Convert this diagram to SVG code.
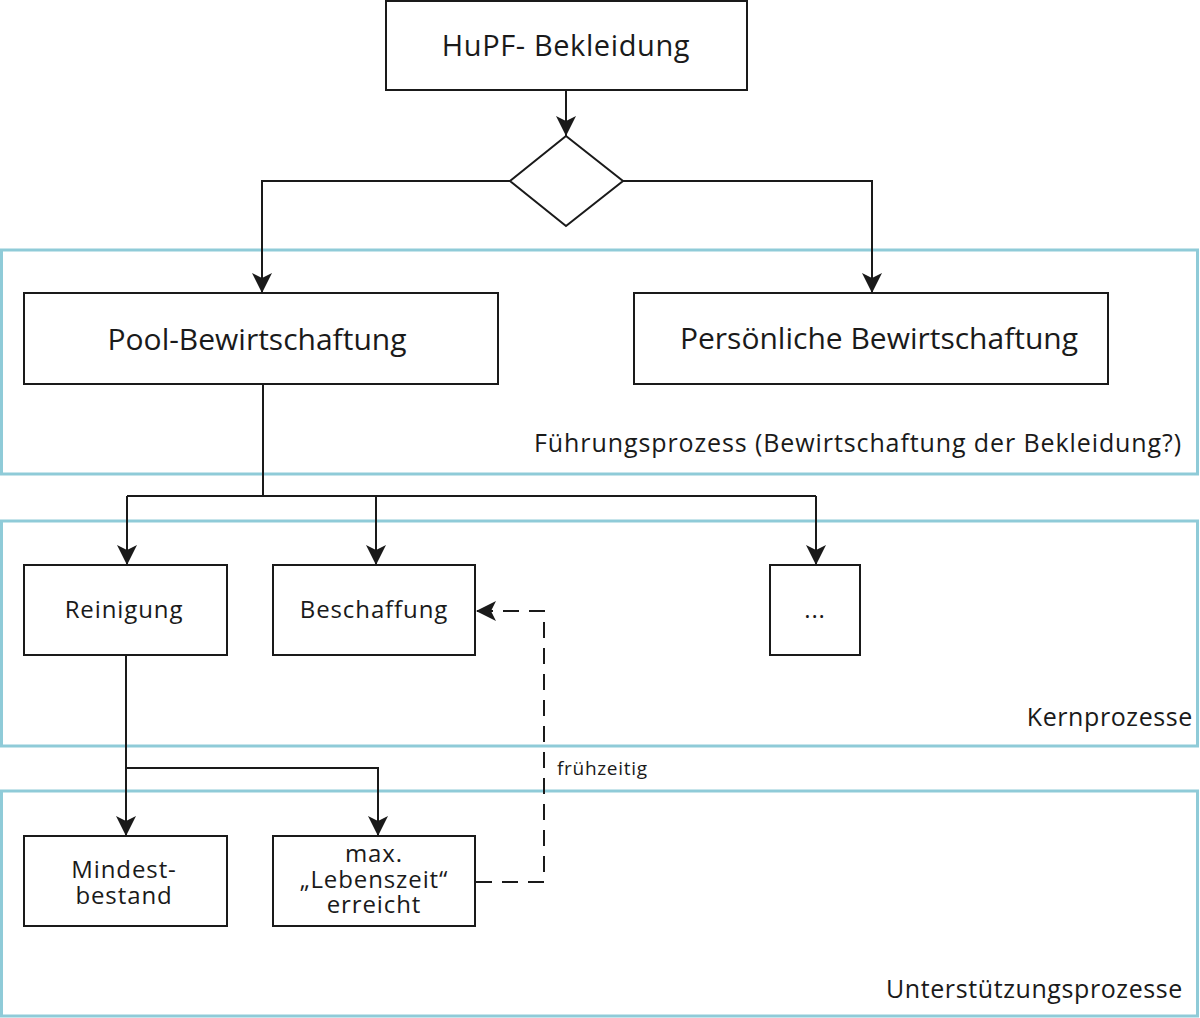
<svg xmlns="http://www.w3.org/2000/svg" width="1200" height="1018" viewBox="0 0 1200 1018">
<defs>
<marker id="ahb" viewBox="0 0 20 20" refX="20" refY="10" markerWidth="20" markerHeight="20" markerUnits="userSpaceOnUse" orient="auto"><path d="M0,0 L20,10 L0,20 L5,10 z" fill="#1a1a1a"/></marker>
</defs>
<style>
text{font-family:"Open Sans","Noto Sans","Liberation Sans",sans-serif;fill:#1a1a1a}
.box{fill:#fff;stroke:#1a1a1a;stroke-width:2}
.zone{fill:#fff;stroke:#8fcbd8;stroke-width:3}
.con{fill:none;stroke:#1a1a1a;stroke-width:2}
.dash{fill:none;stroke:#1a1a1a;stroke-width:2;stroke-dasharray:16,10}
.zl{font-size:25px;letter-spacing:0.6px;text-anchor:end}
.big{font-size:30px;text-anchor:middle}
.sm{font-size:24px;letter-spacing:0.9px;text-anchor:middle}
</style>
<rect width="1200" height="1018" fill="#fff"/>
<g id="zones">
<rect class="zone" x="1.5" y="250" width="1196" height="224"/>
<rect class="zone" x="1.5" y="521" width="1196" height="225"/>
<rect class="zone" x="1.5" y="791" width="1196" height="225"/>
<text class="zl" x="1182" y="452" style="letter-spacing:0.9px">Führungsprozess (Bewirtschaftung der Bekleidung?)</text>
<text class="zl" x="1193" y="726">Kernprozesse</text>
<text class="zl" x="1183" y="998">Unterstützungsprozesse</text>
</g>
<g id="connectors">
<path class="con" d="M566,90 V136" marker-end="url(#ahb)"/>
<path class="con" d="M510,181 H262 V293" marker-end="url(#ahb)"/>
<path class="con" d="M623,181 H872 V293" marker-end="url(#ahb)"/>
<path class="con" d="M263,384 V496"/>
<path class="con" d="M127,496 H816"/>
<path class="con" d="M127,496 V565" marker-end="url(#ahb)"/>
<path class="con" d="M376,496 V565" marker-end="url(#ahb)"/>
<path class="con" d="M816,496 V565" marker-end="url(#ahb)"/>
<path class="con" d="M126,655 V836" marker-end="url(#ahb)"/>
<path class="con" d="M126,768 H378 V836" marker-end="url(#ahb)"/>
<path class="dash" d="M476,882 H544 V611 H476" marker-end="url(#ahb)"/>
<text x="557" y="775" font-size="19" letter-spacing="0.7">frühzeitig</text>
</g>
<g id="hupf">
<rect class="box" x="386" y="1" width="361" height="89"/>
<text x="566" y="56" font-size="29" letter-spacing="0.6" text-anchor="middle">HuPF- Bekleidung</text>
</g>
<g id="decision">
<path class="box" d="M566,136 L623,181 L566,226 L510,181 z"/>
</g>
<g id="pool">
<rect class="box" x="24" y="293" width="474" height="91"/>
<text class="big" x="257" y="350">Pool-Bewirtschaftung</text>
</g>
<g id="persoenlich">
<rect class="box" x="634" y="293" width="474" height="91"/>
<text class="big" x="879" y="349">Persönliche Bewirtschaftung</text>
</g>
<g id="reinigung">
<rect class="box" x="24" y="565" width="203" height="90"/>
<text class="sm" x="124" y="618">Reinigung</text>
</g>
<g id="beschaffung">
<rect class="box" x="273" y="565" width="202" height="90"/>
<text class="sm" x="374" y="618">Beschaffung</text>
</g>
<g id="more">
<rect class="box" x="770" y="565" width="90" height="90"/>
<text class="sm" x="815" y="618">...</text>
</g>
<g id="mindest">
<rect class="box" x="24" y="836" width="203" height="90"/>
<text class="sm" x="124" y="878">Mindest-<tspan x="124" dy="26">bestand</tspan></text>
</g>
<g id="lebenszeit">
<rect class="box" x="273" y="836" width="202" height="90"/>
<text class="sm" x="374" y="862">max.<tspan x="374" dy="26">„Lebenszeit“</tspan><tspan x="374" dy="25">erreicht</tspan></text>
</g>
</svg>
